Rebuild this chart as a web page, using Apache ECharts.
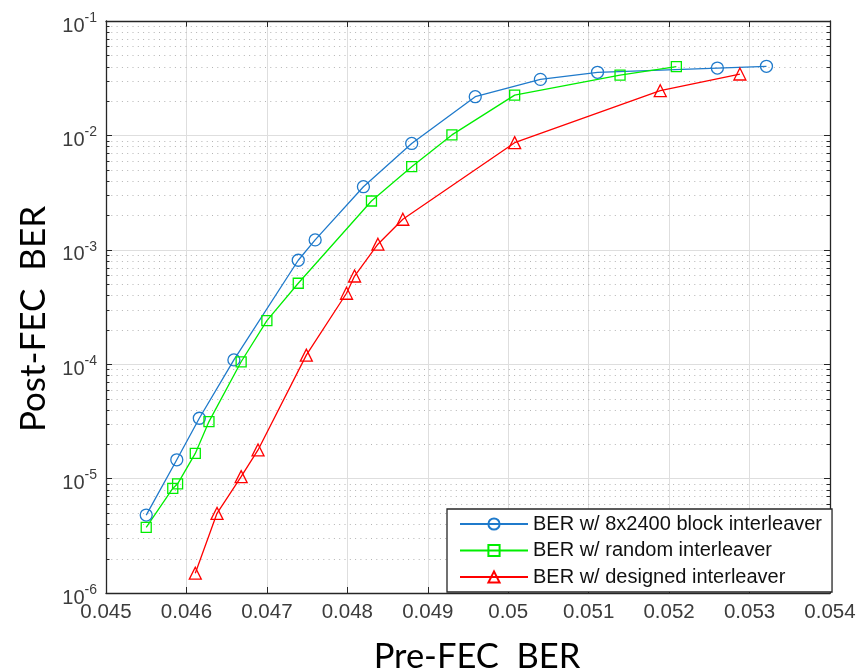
<!DOCTYPE html>
<html>
<head>
<meta charset="utf-8">
<script src="https://cdn.jsdelivr.net/npm/echarts@6/dist/echarts.min.js"></script>
<style>
  html, body { margin: 0; padding: 0; background: #fff; }
  #chart { width: 860px; height: 672px; }
</style>
</head>
<body>
<div id="chart"></div>
<script>
// Pre-FEC BER (x) and Post-FEC BER (y) for each interleaver
const PRE_FEC_BLOCK  = [0.0455, 0.04588, 0.04616, 0.04659, 0.04739, 0.0476, 0.0482, 0.0488, 0.04959, 0.0504, 0.05111, 0.0526, 0.05321];
const POST_FEC_BLOCK = [4.8e-6, 1.46e-5, 3.37e-5, 1.09e-4, 8.1e-4, 1.22e-3, 3.56e-3, 8.5e-3, 2.18e-2, 3.09e-2, 3.56e-2, 3.88e-2, 4.02e-2];

const PRE_FEC_RANDOM  = [0.0455, 0.04583, 0.04589, 0.04611, 0.04628, 0.04668, 0.047, 0.04739, 0.0483, 0.0488, 0.0493, 0.05008, 0.05139, 0.05209];
const POST_FEC_RANDOM = [3.75e-6, 8.2e-6, 9.0e-6, 1.66e-5, 3.15e-5, 1.05e-4, 2.4e-4, 5.1e-4, 2.67e-3, 5.33e-3, 1.01e-2, 2.25e-2, 3.37e-2, 3.99e-2];

const PRE_FEC_DESIGNED  = [0.04611, 0.04638, 0.04668, 0.04689, 0.04749, 0.04799, 0.04809, 0.04838, 0.04869, 0.05008, 0.05189, 0.05288];
const POST_FEC_DESIGNED = [1.49e-6, 4.97e-6, 1.04e-5, 1.78e-5, 1.2e-4, 4.17e-4, 5.9e-4, 1.12e-3, 1.85e-3, 8.64e-3, 2.46e-2, 3.44e-2];

const SERIES_NAMES = [
  'BER w/ 8x2400 block interleaver',
  'BER w/ random interleaver',
  'BER w/ designed interleaver'
];

// Axis ranges and tick layout
const X_MIN = 0.045, X_MAX = 0.054, X_STEP = 0.001;
const Y_MIN = 1e-6, Y_MAX = 1e-1;
const Y_DECADES = [1e-6, 1e-5, 1e-4, 1e-3, 1e-2];
const MINOR_MULTIPLIERS = [2, 3, 4, 5, 6, 7, 8, 9];

const X_TITLE = 'Pre-FEC  BER';
const Y_TITLE = 'Post-FEC  BER';

const COLORS = ['#1f7acb', '#00ee00', '#ff0000'];
const AXIS_COLOR = '#262626';
const TICK_FONT = 'Liberation Sans, Arial, sans-serif';
const TITLE_FONT = 'Lato, sans-serif';

const zip = (xs, ys) => xs.map((x, i) => [x, ys[i]]);

// Minor (2..9 x decade) gridline positions on the log axis
const MINOR_Y = [];
Y_DECADES.forEach(d => MINOR_MULTIPLIERS.forEach(m => MINOR_Y.push([X_MIN, +(d * m).toPrecision(3)])));

function renderMinor(params, api) {
  const cs = params.coordSys;
  const y = Math.round(api.coord([X_MIN, api.value(1)])[1]) + 0.5;
  return {
    type: 'group',
    children: [
      { type: 'line', shape: { x1: cs.x, y1: y, x2: cs.x + cs.width, y2: y },
        style: { stroke: '#b4b4b4', lineWidth: 1, lineDash: [1, 4.3] } },
      { type: 'line', shape: { x1: cs.x, y1: y, x2: cs.x + 3.5, y2: y },
        style: { stroke: AXIS_COLOR, lineWidth: 1 } },
      { type: 'line', shape: { x1: cs.x + cs.width - 3.5, y1: y, x2: cs.x + cs.width, y2: y },
        style: { stroke: AXIS_COLOR, lineWidth: 1 } }
    ]
  };
}

function lineSeries(name, data, symbol, size, color) {
  return {
    name, type: 'line', data, symbol, symbolSize: size,
    showSymbol: true, showAllSymbol: true,
    lineStyle: { color, width: 1.3 },
    itemStyle: { color: 'rgba(255,255,255,0)', borderColor: color, borderWidth: 1.3 },
    emphasis: { disabled: true },
    z: 3
  };
}

const xFmt = v => String(Number(v.toFixed(3)));
const yFmt = v => '{b|10}{s|' + Math.round(Math.log10(v)) + '}';

const commonX = {
  type: 'value', min: X_MIN, max: X_MAX, interval: X_STEP
};

const chart = echarts.init(document.getElementById('chart'), null, { renderer: 'canvas' });
chart.setOption({
  animation: false,
  backgroundColor: '#fff',
  grid: { left: 106, top: 21, width: 724, height: 572 },
  xAxis: [
    Object.assign({}, commonX, {
      position: 'bottom',
      axisLine: { show: true, onZero: false, lineStyle: { color: AXIS_COLOR, width: 1.3 } },
      axisTick: { show: true, inside: true, length: 6, lineStyle: { color: AXIS_COLOR } },
      axisLabel: { formatter: xFmt, margin: 9, fontFamily: TICK_FONT, fontSize: 20.5, color: '#3c3c3c', showMinLabel: true, showMaxLabel: true },
      splitLine: { show: true, lineStyle: { color: '#dedede', width: 1 } }
    }),
    Object.assign({}, commonX, {
      position: 'top',
      axisLine: { show: true, onZero: false, lineStyle: { color: AXIS_COLOR, width: 1.3 } },
      axisTick: { show: true, inside: true, length: 6, lineStyle: { color: AXIS_COLOR } },
      axisLabel: { show: false },
      splitLine: { show: false }
    })
  ],
  yAxis: [
    {
      type: 'log', logBase: 10, min: Y_MIN, max: Y_MAX, splitNumber: 5,
      position: 'left',
      axisLine: { show: true, onZero: false, lineStyle: { color: AXIS_COLOR, width: 1.3 } },
      axisTick: { show: true, inside: true, length: 6, lineStyle: { color: AXIS_COLOR } },
      axisLabel: {
        formatter: yFmt, margin: 9, padding: [10, 0, 0, 0],
        rich: {
          b: { fontFamily: TICK_FONT, fontSize: 20, color: '#3c3c3c', lineHeight: 30 },
          s: { fontFamily: TICK_FONT, fontSize: 14, color: '#3c3c3c', lineHeight: 14, verticalAlign: 'top' }
        }
      },
      splitLine: { show: true, lineStyle: { color: '#dedede', width: 1 } }
    },
    {
      type: 'log', logBase: 10, min: Y_MIN, max: Y_MAX, splitNumber: 5,
      position: 'right',
      axisLine: { show: true, onZero: false, lineStyle: { color: AXIS_COLOR, width: 1.3 } },
      axisTick: { show: true, inside: true, length: 6, lineStyle: { color: AXIS_COLOR } },
      axisLabel: { show: false },
      splitLine: { show: false }
    }
  ],
  legend: {
    data: SERIES_NAMES,
    orient: 'vertical',
    left: 447, top: 509,
    padding: [5, 10, 5, 12],
    itemWidth: 68, itemHeight: 14, itemGap: 6.5,
    backgroundColor: '#fff',
    borderColor: AXIS_COLOR, borderWidth: 1.3, borderRadius: 0,
    textStyle: { fontFamily: TICK_FONT, fontSize: 20, color: '#111' },
    selectedMode: false
  },
  graphic: [
    { type: 'text', x: 477, y: 657,
      style: { text: X_TITLE, font: '34.5px ' + TITLE_FONT, fill: '#000', align: 'center', verticalAlign: 'middle' } },
    { type: 'text', x: 34, y: 319, rotation: Math.PI / 2,
      style: { text: Y_TITLE, font: '35px ' + TITLE_FONT, fill: '#000', align: 'center', verticalAlign: 'middle' } }
  ],
  series: [
    {
      type: 'custom', name: 'minor-grid', silent: true, z: 1,
      renderItem: renderMinor, data: MINOR_Y, clip: false
    },
    lineSeries(SERIES_NAMES[0], zip(PRE_FEC_BLOCK, POST_FEC_BLOCK), 'circle', 12, COLORS[0]),
    lineSeries(SERIES_NAMES[1], zip(PRE_FEC_RANDOM, POST_FEC_RANDOM), 'rect', 10, COLORS[1]),
    lineSeries(SERIES_NAMES[2], zip(PRE_FEC_DESIGNED, POST_FEC_DESIGNED), 'triangle', 12, COLORS[2])
  ]
});
</script>
</body>
</html>
